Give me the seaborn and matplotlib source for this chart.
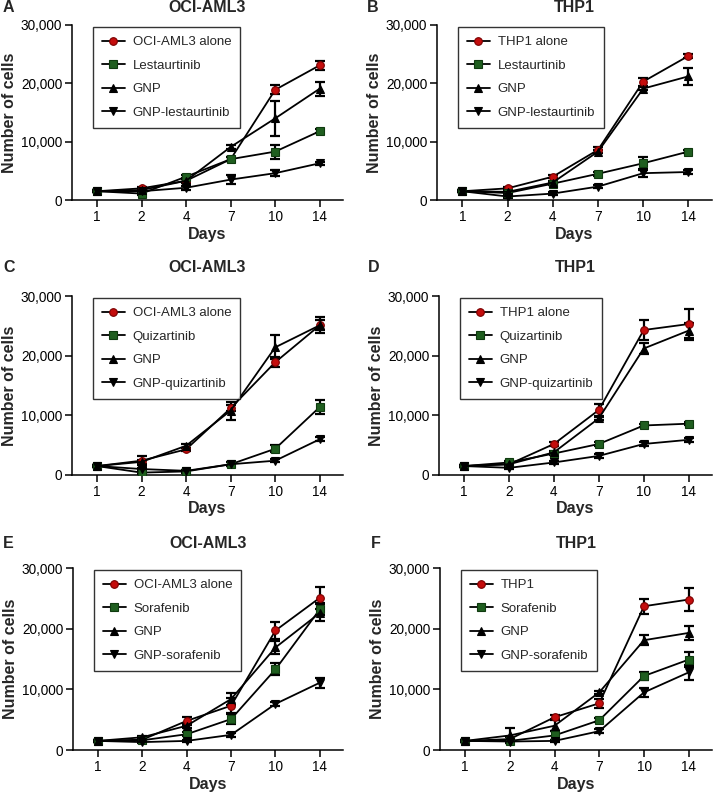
import numpy as np
import pandas as pd
import matplotlib
matplotlib.use("Agg")
import matplotlib.pyplot as plt
import seaborn as sns
from matplotlib.ticker import FuncFormatter

sns.set_theme(style="ticks")
plt.rcParams['font.family'] = ['Liberation Sans', 'DejaVu Sans']

days = ["1", "2", "4", "7", "10", "14"]

# Panel A: OCI-AML3 / lestaurtinib
a_alone = [1500, 2000, 3300, 7000, 18900, 23100]
a_alone_err = [200, 200, 300, 300, 800, 800]
a_drug = [1500, 1100, 4000, 7000, 8300, 11800]
a_drug_err = [200, 200, 300, 300, 1200, 300]
a_gnp = [1500, 1700, 3300, 9100, 14000, 19100]
a_gnp_err = [200, 200, 300, 300, 3000, 1200]
a_combo = [1500, 1500, 2100, 3500, 4600, 6300]
a_combo_err = [200, 200, 300, 800, 500, 300]

# Panel B: THP1 / lestaurtinib
b_alone = [1500, 2000, 4000, 8600, 20300, 24700]
b_alone_err = [200, 200, 300, 500, 700, 300]
b_drug = [1500, 1200, 2800, 4500, 6300, 8300]
b_drug_err = [200, 200, 300, 300, 1000, 300]
b_gnp = [1500, 1400, 3000, 8300, 19100, 21200]
b_gnp_err = [200, 200, 300, 300, 300, 1500]
b_combo = [1500, 600, 1100, 2300, 4600, 4800]
b_combo_err = [200, 200, 200, 300, 600, 300]

# Panel C: OCI-AML3 / quizartinib
c_alone = [1500, 2400, 4300, 11200, 18900, 25100]
c_alone_err = [200, 800, 300, 500, 800, 800]
c_drug = [1500, 400, 600, 1800, 4400, 11400]
c_drug_err = [200, 200, 200, 300, 600, 1200]
c_gnp = [1500, 2200, 4900, 10800, 21400, 25100]
c_gnp_err = [200, 300, 300, 1500, 2000, 1300]
c_combo = [1500, 1000, 700, 1800, 2400, 6000]
c_combo_err = [200, 200, 200, 300, 300, 300]

# Panel D: THP1 / quizartinib
d_alone = [1500, 1800, 5200, 10900, 24300, 25300]
d_alone_err = [200, 200, 300, 1000, 1700, 2600]
d_drug = [1500, 2100, 3600, 5200, 8300, 8600]
d_drug_err = [200, 200, 300, 300, 300, 300]
d_gnp = [1500, 1800, 3800, 9500, 21200, 24200]
d_gnp_err = [200, 200, 300, 300, 1000, 1300]
d_combo = [1500, 1200, 2100, 3200, 5200, 5900]
d_combo_err = [200, 200, 200, 300, 300, 300]

# Panel E: OCI-AML3 / sorafenib
e_alone = [1500, 1700, 4800, 7300, 19700, 25100]
e_alone_err = [200, 200, 600, 1200, 1400, 1800]
e_drug = [1500, 1600, 2600, 5100, 13300, 23200]
e_drug_err = [200, 200, 300, 800, 1000, 1000]
e_gnp = [1500, 2100, 4000, 8400, 16900, 22600]
e_gnp_err = [200, 200, 300, 1000, 1000, 1400]
e_combo = [1500, 1300, 1500, 2500, 7600, 11100]
e_combo_err = [200, 200, 200, 300, 300, 800]

# Panel F: THP1 / sorafenib
f_alone = [1500, 1800, 5400, 7700, 23700, 24800]
f_alone_err = [200, 300, 300, 700, 1200, 1900]
f_drug = [1500, 1500, 2400, 4900, 12200, 14900]
f_drug_err = [200, 200, 700, 300, 600, 1300]
f_gnp = [1500, 2400, 4000, 9500, 18100, 19300]
f_gnp_err = [200, 1200, 900, 300, 800, 1200]
f_combo = [1500, 1400, 1500, 3100, 9500, 12800]
f_combo_err = [200, 200, 200, 300, 800, 1200]

panel_letters = ["A", "B", "C", "D", "E", "F"]
panel_titles = ["OCI-AML3", "THP1", "OCI-AML3", "THP1", "OCI-AML3", "THP1"]
legend_labels = [
    ["OCI-AML3 alone", "Lestaurtinib", "GNP", "GNP-lestaurtinib"],
    ["THP1 alone", "Lestaurtinib", "GNP", "GNP-lestaurtinib"],
    ["OCI-AML3 alone", "Quizartinib", "GNP", "GNP-quizartinib"],
    ["THP1 alone", "Quizartinib", "GNP", "GNP-quizartinib"],
    ["OCI-AML3 alone", "Sorafenib", "GNP", "GNP-sorafenib"],
    ["THP1", "Sorafenib", "GNP", "GNP-sorafenib"],
]
panel_data = [
    [(a_alone, a_alone_err), (a_drug, a_drug_err), (a_gnp, a_gnp_err), (a_combo, a_combo_err)],
    [(b_alone, b_alone_err), (b_drug, b_drug_err), (b_gnp, b_gnp_err), (b_combo, b_combo_err)],
    [(c_alone, c_alone_err), (c_drug, c_drug_err), (c_gnp, c_gnp_err), (c_combo, c_combo_err)],
    [(d_alone, d_alone_err), (d_drug, d_drug_err), (d_gnp, d_gnp_err), (d_combo, d_combo_err)],
    [(e_alone, e_alone_err), (e_drug, e_drug_err), (e_gnp, e_gnp_err), (e_combo, e_combo_err)],
    [(f_alone, f_alone_err), (f_drug, f_drug_err), (f_gnp, f_gnp_err), (f_combo, f_combo_err)],
]

markers = ["o", "s", "^", "v"]
faces = ["#c40d0d", "#1f5e1f", "black", "black"]
edges = ["#7a0000", "#0f3a0f", "black", "black"]

W, H = 714, 792
# axes boxes in pixels: (x0, x1, ytop, ybottom)
boxes = [
    (72, 343, 25, 200), (437, 712, 25, 200),
    (72, 343, 296, 475), (439, 712, 296, 475),
    (73, 343, 568, 750), (440, 712, 568, 750),
]
title_y = [8, 8, 268, 268, 543, 543]
letter_x = [3, 367, 3, 368, 3, 371]

fig = plt.figure(figsize=(W / 100, H / 100), dpi=100)
fmt = FuncFormatter(lambda v, p: f"{int(v):,}")

for i in range(6):
    x0, x1, yt, yb = boxes[i]
    ax = fig.add_axes([x0 / W, 1 - yb / H, (x1 - x0) / W, (yb - yt) / H])
    xs = np.arange(len(days))
    for j, (vals, errs) in enumerate(panel_data[i]):
        ax.errorbar(xs, vals, yerr=errs, fmt="none", ecolor="black",
                    elinewidth=1.6, capsize=3.5, capthick=1.6, zorder=2)
        df = pd.DataFrame({"day": xs, "cells": vals})
        sns.lineplot(data=df, x="day", y="cells", ax=ax, color="black",
                     linewidth=1.3, marker=markers[j], markersize=5.5,
                     markerfacecolor=faces[j], markeredgecolor=edges[j],
                     markeredgewidth=0.8, label=legend_labels[i][j], zorder=3)
    ax.set_xlim(-0.56, 5.52)
    ax.set_ylim(0, 30000)
    ax.set_xticks(xs)
    ax.set_xticklabels(days)
    ax.set_yticks([0, 10000, 20000, 30000])
    ax.yaxis.set_major_formatter(fmt)
    for s in ["top", "right"]:
        ax.spines[s].set_visible(False)
    for s in ["left", "bottom"]:
        ax.spines[s].set_linewidth(1.1)
        ax.spines[s].set_color("black")
    ax.tick_params(axis="both", length=5, width=1.1, labelsize=9.8,
                   colors="black", pad=2, direction="out")
    ax.set_xlabel("Days", fontsize=11.5, fontweight="bold", labelpad=2)
    ax.set_ylabel("Number of cells", fontsize=11.5, fontweight="bold", labelpad=3)
    leg = ax.legend(loc="upper left", bbox_to_anchor=(21 / (x1 - x0), 1 - 2 / (yb - yt)),
                    borderaxespad=0, fontsize=9.5, frameon=True, fancybox=False,
                    handlelength=1.7, handletextpad=0.6, labelspacing=0.85,
                    borderpad=0.7)
    leg.get_frame().set_edgecolor("black")
    leg.get_frame().set_linewidth(1.0)
    cx = (x0 + x1) / 2 / W
    fig.text(cx, 1 - title_y[i] / H, panel_titles[i], ha="center", va="center",
             fontsize=11.5, fontweight="bold")
    fig.text(letter_x[i] / W, 1 - title_y[i] / H, panel_letters[i], ha="left",
             va="center", fontsize=11.5, fontweight="bold")

fig.savefig("out.png", dpi=100, facecolor="white")
